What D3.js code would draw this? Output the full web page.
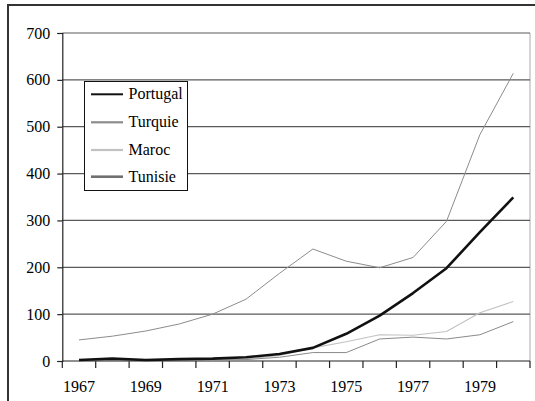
<!DOCTYPE html>
<html>
<head>
<meta charset="utf-8">
<script src="https://cdn.jsdelivr.net/npm/d3@7"></script>
<style>
  body { margin: 0; background: #fff; }
  svg { display: block; }
  text { font-family: "Liberation Serif", "Times New Roman", serif; fill: #000; }
</style>
</head>
<body>
<div id="chart"></div>
<script>
const years = [1967, 1968, 1969, 1970, 1971, 1972, 1973, 1974, 1975, 1976, 1977, 1978, 1979, 1980];
const yTicks = [0, 100, 200, 300, 400, 500, 600, 700];
const xLabels = [1967, 1969, 1971, 1973, 1975, 1977, 1979];

const portugal = [2, 5, 2, 4, 5, 8, 15, 28, 58, 97, 145, 198, 275, 349];
const turquie = [45, 53, 64, 79, 100, 132, 187, 239, 213, 199, 221, 298, 483, 614];
const maroc = [1, 2, 1, 2, 3, 4, 12, 28, 41, 56, 55, 63, 103, 127];
const tunisie = [0, 1, 0, 1, 2, 3, 8, 18, 18, 47, 51, 47, 56, 84];

const seriesNames = ['Portugal', 'Turquie', 'Maroc', 'Tunisie'];

function app() {
  const W = 535, H = 401;
  const LEFT = 62.3, RIGHT = 530, TOP = 33, BOTTOM = 361;
  const FONT = 16;

  const series = [
    {name: seriesNames[0], values: portugal, color: '#111', width: 2.6, legendWidth: 2},
    {name: seriesNames[1], values: turquie, color: '#8c8c8c', width: 1, legendWidth: 2.2},
    {name: seriesNames[2], values: maroc, color: '#c2c2c2', width: 1.1, legendWidth: 2.2},
    {name: seriesNames[3], values: tunisie, color: '#8a8a8a', width: 1, legendWidth: 2.6}
  ];
  series[3].legendColor = '#707070';

  const svg = d3.select('#chart').append('svg')
    .attr('width', W)
    .attr('height', H);

  // outer frame (top and left edge only visible)
  svg.append('line').attr('x1', 7).attr('x2', W).attr('y1', 5).attr('y2', 5)
    .attr('stroke', '#333').attr('stroke-width', 2);
  svg.append('line').attr('x1', 8).attr('x2', 8).attr('y1', 5).attr('y2', H)
    .attr('stroke', '#333').attr('stroke-width', 2);

  const x = d3.scaleBand().domain(years).range([LEFT, RIGHT]);
  const y = d3.scaleLinear().domain([0, 700]).range([BOTTOM, TOP]);
  const cx = (d) => x(d) + x.bandwidth() / 2;

  // plot area right border
  svg.append('line')
    .attr('x1', RIGHT).attr('x2', RIGHT).attr('y1', TOP).attr('y2', BOTTOM)
    .attr('stroke', '#aaa').attr('stroke-width', 1);

  // gridlines
  svg.append('g').selectAll('line')
    .data(yTicks.filter((d) => d > 0))
    .enter().append('line')
    .attr('x1', LEFT).attr('x2', RIGHT)
    .attr('y1', (d) => y(d)).attr('y2', (d) => y(d))
    .attr('stroke', '#5a5a5a').attr('stroke-width', 1.2);

  // y axis
  const yAxis = svg.append('g').attr('transform', `translate(${LEFT},0)`)
    .call(d3.axisLeft(y).tickValues(yTicks).tickSize(5).tickPadding(7));
  yAxis.select('.domain').attr('stroke', '#222').attr('stroke-width', 1.2);
  yAxis.selectAll('.tick line').attr('stroke', '#222').attr('stroke-width', 1.2);
  yAxis.selectAll('text').attr('font-size', FONT)
    .attr('font-family', '"Liberation Serif", serif').attr('fill', '#000');

  // x axis: ticks between categories, labels on odd years
  const xg = svg.append('g');
  xg.append('line')
    .attr('x1', LEFT).attr('x2', RIGHT).attr('y1', BOTTOM).attr('y2', BOTTOM)
    .attr('stroke', '#222').attr('stroke-width', 1.2);
  const bounds = years.map((d) => x(d)).concat([RIGHT]);
  xg.selectAll('line.tick')
    .data(bounds)
    .enter().append('line')
    .attr('class', 'tick')
    .attr('x1', (d) => d).attr('x2', (d) => d)
    .attr('y1', BOTTOM).attr('y2', BOTTOM + 7)
    .attr('stroke', '#222').attr('stroke-width', 1.2);
  xg.selectAll('text')
    .data(xLabels)
    .enter().append('text')
    .attr('x', (d) => cx(d))
    .attr('y', 391.5)
    .attr('text-anchor', 'middle')
    .attr('font-size', FONT)
    .text((d) => d);

  // lines
  const line = d3.line()
    .x((d, i) => cx(years[i]))
    .y((d) => y(d));

  [series[2], series[3], series[1], series[0]].forEach((s) => {
    svg.append('path')
      .datum(s.values)
      .attr('d', line)
      .attr('fill', 'none')
      .attr('stroke', s.color)
      .attr('stroke-width', s.width)
      .attr('stroke-linejoin', 'round');
  });

  // legend
  const lg = svg.append('g');
  lg.append('rect')
    .attr('x', 84.5).attr('y', 81.5).attr('width', 103).attr('height', 109)
    .attr('fill', '#fff').attr('stroke', '#111').attr('stroke-width', 1);
  const rowY = [94.3, 122.3, 150, 176.7];
  series.forEach((s, i) => {
    lg.append('line')
      .attr('x1', 91).attr('x2', 123)
      .attr('y1', rowY[i]).attr('y2', rowY[i])
      .attr('stroke', s.legendColor || s.color)
      .attr('stroke-width', s.legendWidth);
    lg.append('text')
      .attr('x', 128.5).attr('y', rowY[i] + 5)
      .attr('font-size', FONT)
      .text(s.name);
  });
}

app();
</script>
</body>
</html>
